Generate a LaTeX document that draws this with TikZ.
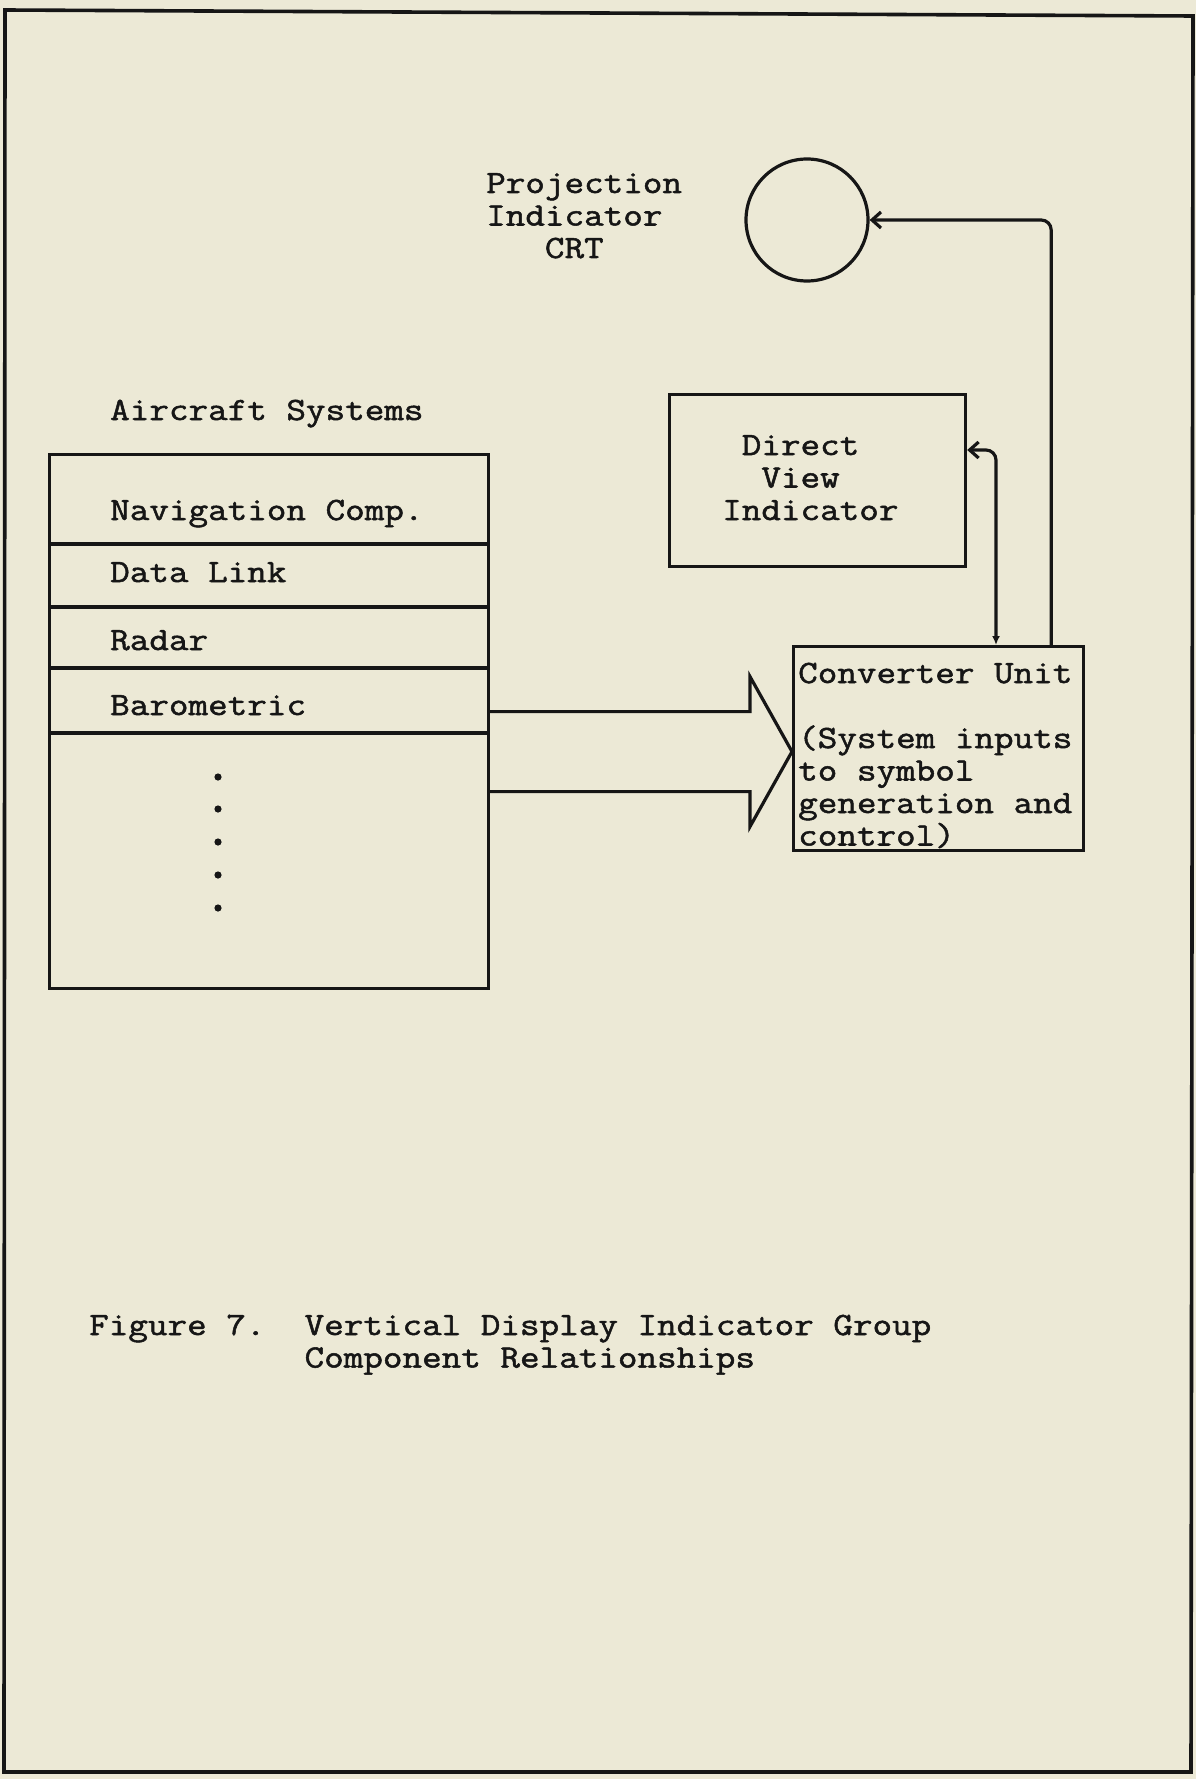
\documentclass[tikz,border=0pt]{standalone}
\usepackage{fontspec}
\usetikzlibrary{arrows.meta,calc}
\newfontfamily\tw[FakeStretch=1.17,FakeBold=1.6]{Latin Modern Mono}
\definecolor{paper}{RGB}{236,233,214}
\definecolor{inkc}{RGB}{22,22,22}
% several typed lines, first baseline on the node's base
\newcommand\typed[1]{\begin{tabular}[t]{@{}l@{}}#1\end{tabular}}

\begin{document}
\begin{tikzpicture}[x=1pt,y=-1pt,
  ink/.style={line width=3.2pt, draw=inkc, line join=miter},
  txt/.style={inner sep=0pt, anchor=base west, text=inkc,
              font=\tw\fontsize{32.5}{32.5}\selectfont\frenchspacing},
  box/.style={ink, rectangle, inner sep=0pt, anchor=north west},
  barb/.style={-{Straight Barb[length=9pt,width=16pt]}}]

% sheet and frame
\fill[paper] (0,0) rectangle (1196,1779);
\useasboundingbox (0,0) rectangle (1196,1779);
\draw[ink, line width=3.6pt] (5,10) -- (1193,16) -- (1191,1772) -- (4,1772) -- cycle;

% projection indicator CRT
\node[txt] (crtlabel) at (486,193) {\typed{Projection\\Indicator\\\phantom{XXX}CRT}};
\node[ink, circle, inner sep=0pt, minimum size=122pt] (crt) at (807,220) {};

% aircraft systems
\node[txt] (systitle) at (110,420) {Aircraft Systems};
\node[box, minimum width=439pt, minimum height=534pt] (sys) at (48,453) {};
\foreach \y in {544,607,668,733}
  \draw[ink] (sys.west |- 0,\y) -- (sys.east |- 0,\y);
\node[txt] (nav)   at (110,520) {Navigation Comp.};
\node[txt] (link)  at (110,582) {Data Link};
\node[txt] (radar) at (110,650) {Radar};
\node[txt] (baro)  at (110,715) {Barometric};
\foreach \y in {777,809,842,875,908}
  \fill[inkc] (218,\y) circle (3.6pt);

% direct view indicator
\node[box, minimum width=296pt, minimum height=172pt] (dvi) at (668,393) {};
\node[txt] (dvitext) at (722,455) {\typed{\phantom{X}Direct\\\phantom{XX}View\\Indicator}};

% converter unit
\node[box, minimum width=290pt, minimum height=204pt] (conv) at (792,645) {};
\node[txt] (convtext) at (798,683) {\typed{Converter Unit\\ \\(System inputs\\to symbol\\generation and\\control)}};

% wide input arrow from the systems to the converter
\coordinate (tip) at ($(conv.west)+(0,3)$);
\path (tip) ++(-42,-40) coordinate (hu) ++(0,-35) coordinate (hut)
      (tip) ++(-42,40) coordinate (hl) ++(0,35) coordinate (hlb);
\draw[ink] (sys.east |- hu) -- (hu) -- (hut) -- (tip) -- (hlb) -- (hl) -- (sys.east |- hl);

% converter outputs
\draw[ink, rounded corners=10pt, barb] ($(conv.north east)+(-34,0)$) |- (crt.east);
\draw[ink, rounded corners=10pt, {Latex[length=9pt,width=8pt]}-{Straight Barb[length=9pt,width=16pt]}]
  ($(conv.north west)+(204,0)$) |- ($(dvi.north east)+(0,57)$);

% caption
\node[txt] (caption) at (89,1335) {\typed{Figure 7.\ \ Vertical Display Indicator Group\\\phantom{Figure 7.\ \ }Component Relationships}};
\end{tikzpicture}
\end{document}
